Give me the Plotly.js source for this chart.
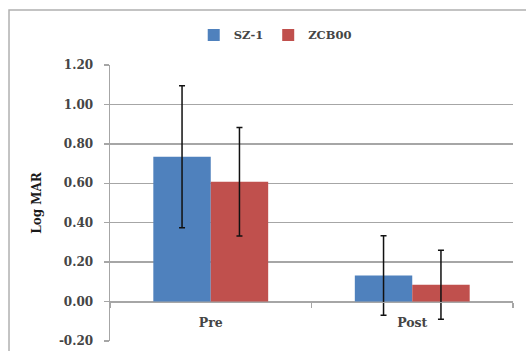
<!DOCTYPE html>
<html>
<head>
<meta charset="utf-8">
<script src="https://cdn.plot.ly/plotly-3.0.1.min.js"></script>
<style>html,body{margin:0;padding:0;background:#fff;}#chart{width:526px;height:351px;}</style>
</head>
<body>
<div id="chart"></div>
<script>
const categories = ["Pre", "Post"];
const seriesNames = ["SZ-1", "ZCB00"];
const sz1Values = [0.735, 0.132];
const sz1Errors = [0.36, 0.202];
const zcbValues = [0.608, 0.085];
const zcbErrors = [0.275, 0.175];
const yTickVals = [-0.2, 0, 0.2, 0.4, 0.6, 0.8, 1.0, 1.2];
const yTickText = ["-0.20", "0.00", "0.20", "0.40", "0.60", "0.80", "1.00", "1.20"];

const font = {family: "DejaVu Serif", size: 12, color: "#454545", weight: "bold"};
const errStyle = {type: "data", visible: true, color: "#111", thickness: 1.5, width: 3};

const traces = [
  {type: "bar", name: seriesNames[0], x: categories, y: sz1Values,
   marker: {color: "#4f81bd"}, error_y: Object.assign({array: sz1Errors}, errStyle)},
  {type: "bar", name: seriesNames[1], x: categories, y: zcbValues,
   marker: {color: "#c0504d"}, error_y: Object.assign({array: zcbErrors}, errStyle)}
];

const layout = {
  width: 526, height: 351,
  margin: {l: 110, r: 13, t: 65, b: 10},
  paper_bgcolor: "#fff", plot_bgcolor: "#fff",
  font: font,
  barmode: "group", bargap: 0.43, bargroupgap: 0,
  showlegend: true,
  legend: {orientation: "h", x: 0.41, xanchor: "center", y: 1.109, yanchor: "middle",
           font: {family: "DejaVu Serif", size: 11.5, color: "#454545", weight: "bold"}, itemwidth: 30, traceorder: "normal"},
  xaxis: {
    type: "category", anchor: "free", position: 0.142857,
    showline: true, linecolor: "#a6a6a6", linewidth: 1.5,
    ticks: "outside", tickson: "boundaries", ticklen: 5, tickcolor: "#a6a6a6", tickwidth: 1.5,
    showgrid: false, zeroline: false, fixedrange: true,
    ticklabelstandoff: 9,
    tickfont: {family: "DejaVu Serif", size: 12.5, color: "#454545", weight: "bold"}
  },
  yaxis: {
    range: [-0.2, 1.2], tickvals: yTickVals, ticktext: yTickText,
    showline: true, linecolor: "#a6a6a6", linewidth: 1.5,
    ticks: "outside", ticklen: 5, tickcolor: "#a6a6a6", tickwidth: 1.5,
    showgrid: true, gridcolor: "#a6a6a6", gridwidth: 1.5,
    zeroline: false, ticklabelstandoff: 8,
    tickfont: font,
    title: {text: "<b>Log MAR</b>", font: {family: "DejaVu Serif", size: 12, color: "#1a1a1a"}, standoff: 14}
  },
  shapes: [
    {type: "rect", xref: "paper", yref: "paper", x0: -0.2506, x1: 1.2, y0: -0.3, y1: 1.199,
     line: {color: "#b0b0b0", width: 1.5}, fillcolor: "rgba(0,0,0,0)", layer: "below"}
  ]
};

Plotly.newPlot("chart", traces, layout, {staticPlot: true, displayModeBar: false});
</script>
</body>
</html>
